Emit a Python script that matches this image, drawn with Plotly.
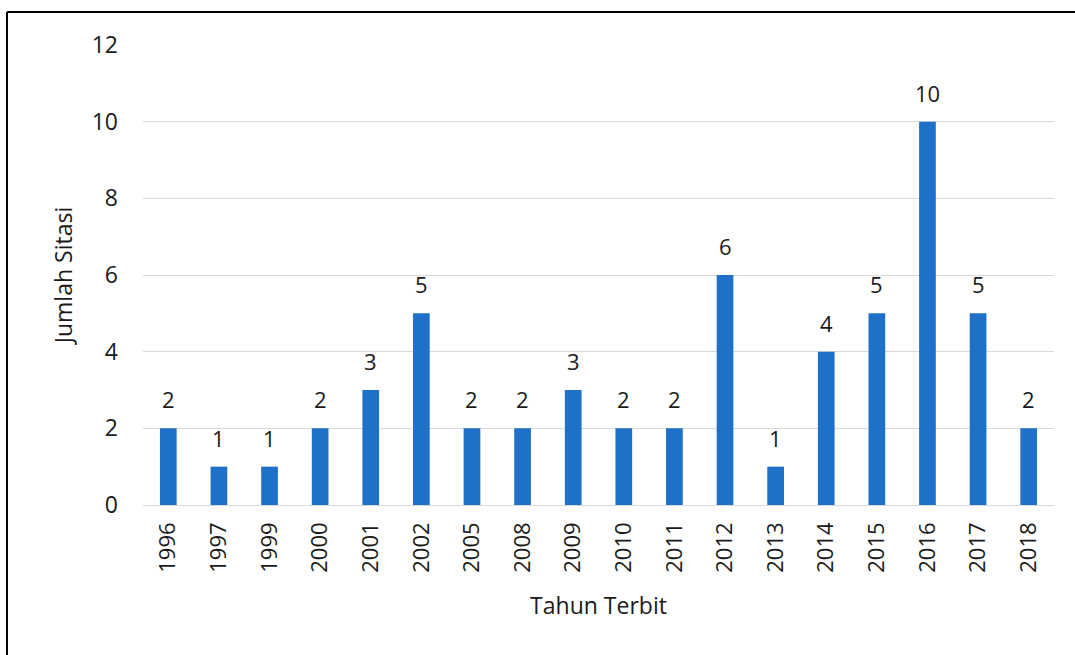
import plotly.graph_objects as go

years = ["1996", "1997", "1999", "2000", "2001", "2002", "2005", "2008", "2009",
         "2010", "2011", "2012", "2013", "2014", "2015", "2016", "2017", "2018"]
citations = [2, 1, 1, 2, 3, 5, 2, 2, 3, 2, 2, 6, 1, 4, 5, 10, 5, 2]
y_ticks = [0, 2, 4, 6, 8, 10, 12]

FONT = "Open Sans"
TXT = "#1a1a1a"

fig = go.Figure()
fig.add_trace(go.Bar(
    x=years, y=citations,
    marker=dict(color="#1f70c8", line=dict(width=0)),
    width=0.33,
    hoverinfo="x+y",
))

# category index positions for the value labels
for i, v in enumerate(citations):
    fig.add_annotation(x=i, y=v, text=str(v), showarrow=False,
                       xref="x", yref="y",
                       yanchor="middle", yshift=29,
                       font=dict(family=FONT, size=22, color=TXT))

fig.update_layout(
    width=1075, height=655,
    margin=dict(l=143, r=21, t=45, b=150),
    paper_bgcolor="white", plot_bgcolor="white",
    showlegend=False,
    font=dict(family=FONT, size=22, color=TXT),
    xaxis=dict(
        type="category", tickangle=-90,
        range=[-0.5, len(years) - 0.5],
        showgrid=False, showline=False, zeroline=False,
        ticks="", ticklabelstandoff=12,
        tickfont=dict(family=FONT, size=22, color=TXT),
        title=dict(text="Tahun Terbit", standoff=26,
                   font=dict(family=FONT, size=23, color=TXT)),
    ),
    yaxis=dict(
        range=[0, 12], tickvals=y_ticks,
        showgrid=True, gridcolor="#d9d9d9", gridwidth=1.3,
        zeroline=True, zerolinecolor="#d9d9d9", zerolinewidth=1.3,
        showline=False, ticks="", ticklabelstandoff=24,
        tickfont=dict(family=FONT, size=23, color=TXT),
        title=dict(text="Jumlah Sitasi", standoff=12,
                   font=dict(family=FONT, size=23, color=TXT)),
    ),
    shapes=[
        dict(type="line", xref="paper", yref="paper",
             x0=-0.1493, x1=-0.1493, y0=1.0717, y1=-0.4,
             line=dict(color="black", width=2)),
        dict(type="line", xref="paper", yref="paper",
             x0=-0.1493, x1=1.03, y0=1.0717, y1=1.0717,
             line=dict(color="black", width=2)),
    ],
)

fig.write_html("out.html",
               config={"displayModeBar": False},
               post_script="document.body.style.margin='0';document.body.style.overflow='hidden';")
